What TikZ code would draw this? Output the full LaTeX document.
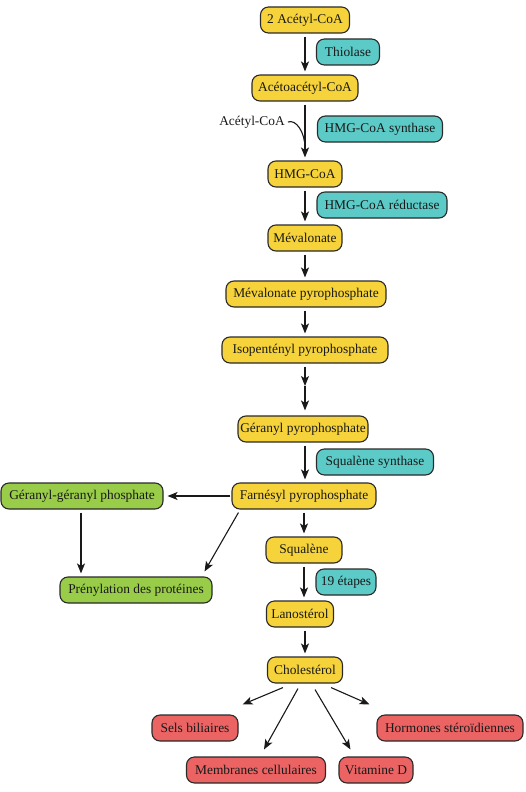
\documentclass[tikz,border=0pt]{standalone}
\usepackage{fontspec}
\setmainfont{Liberation Serif}
\usetikzlibrary{arrows.meta,calc}
\definecolor{cyel}{HTML}{F6D33A}
\definecolor{cteal}{HTML}{5CCBC7}
\definecolor{cgreen}{HTML}{99CC48}
\definecolor{cred}{HTML}{EC6364}
\definecolor{cline}{HTML}{2A2A2A}
\begin{document}
\begin{tikzpicture}[x=1pt,y=-1pt,
  box/.style={draw=cline,line width=1.1pt,rounded corners=8pt,minimum height=26pt,inner sep=0pt,
    font=\fontsize{13.4}{16}\selectfont,text=black!90},
  yel/.style={box,fill=cyel},
  teal/.style={box,fill=cteal},
  grn/.style={box,fill=cgreen},
  redb/.style={box,fill=cred},
  arr/.style={-{Stealth[length=10pt,width=8pt,inset=2.5pt]},line width=1.1pt,black!90},
  sh/.style={shorten <=3pt,shorten >=3pt}]
\useasboundingbox (0,0) rectangle (525,792);
\node[yel,minimum width=89pt] (a2) at (305,20) {2 Acétyl-CoA};
\node[teal,minimum width=63pt] (thio) at (348,52) {Thiolase};
\node[yel,minimum width=106pt] (acac) at (305,88) {Acétoacétyl-CoA};
\node[font=\fontsize{13.4}{16}\selectfont,text=black!90,inner sep=0pt] (acoa) at (252,122) {Acétyl-CoA};
\node[teal,minimum width=125pt] (hsyn) at (380,129) {HMG-CoA synthase};
\node[yel,minimum width=74pt] (hmg) at (305,174) {HMG-CoA};
\node[teal,minimum width=130pt] (hred) at (382,205) {HMG-CoA réductase};
\node[yel,minimum width=74pt] (meva) at (305,238) {Mévalonate};
\node[yel,minimum width=160pt] (mevpp) at (306,294) {Mévalonate pyrophosphate};
\node[yel,minimum width=166pt] (ipp) at (305,350) {Isopentényl pyrophosphate};
\node[yel,minimum width=130pt] (gpp) at (303,429) {Géranyl pyrophosphate};
\node[teal,minimum width=117pt] (sqs) at (375,462) {Squalène synthase};
\node[yel,minimum width=144pt] (fpp) at (304,496) {Farnésyl pyrophosphate};
\node[grn,minimum width=162pt] (ggp) at (82,496) {Géranyl-géranyl phosphate};
\node[yel,minimum width=76pt] (sq) at (304,550) {Squalène};
\node[grn,minimum width=152pt] (pren) at (136,590) {Prénylation des protéines};
\node[teal,minimum width=60pt] (e19) at (346,582) {19 étapes};
\node[yel,minimum width=67pt] (lano) at (300,614) {Lanostérol};
\node[yel,minimum width=75pt] (chol) at (305,670) {Cholestérol};
\node[redb,minimum width=86pt] (sels) at (195,728) {Sels biliaires};
\node[redb,minimum width=146pt] (horm) at (450,728) {Hormones stéroïdiennes};
\node[redb,minimum width=139pt] (memb) at (256,770) {Membranes cellulaires};
\node[redb,minimum width=74pt] (vitd) at (376,770) {Vitamine D};
\coordinate (j1) at (305,148);
\coordinate (m1) at (305,386);
% main axis
\draw[arr,sh] (a2.south -| 305,0) -- (acac.north -| 305,0);
\draw[arr,sh] (acac.south -| 305,0) -- (hmg.north -| 305,0);
\draw[line width=1.1pt,black!90] ($(acoa.east)+(3,0)$) .. controls +(8,-3) and (305,132) .. (j1);
\draw[arr,sh] (hmg.south -| 305,0) -- (meva.north -| 305,0);
\draw[arr,sh] (meva.south -| 305,0) -- (mevpp.north -| 305,0);
\draw[arr,sh] (mevpp.south -| 305,0) -- (ipp.north -| 305,0);
\draw[arr,shorten <=3pt] (ipp.south -| 305,0) -- (m1);
\draw[arr,shorten >=5pt] (m1) -- (gpp.north -| 305,0);
\draw[arr,sh] (gpp.south -| 305,0) -- (fpp.north -| 305,0);
\draw[arr,sh] (fpp.south -| 304,0) -- (sq.north -| 304,0);
\draw[arr,sh] (sq.south -| 304,0) -- (lano.north -| 304,0);
\draw[arr,sh] (lano.south -| 305,0) -- (chol.north -| 305,0);
% branches
\draw[arr,shorten <=1pt,shorten >=4pt] (fpp.west) -- (ggp.east);
\draw[arr,sh] (ggp.south -| 81,0) -- (pren.north -| 81,0);
\draw[arr] ($(fpp.south west)+(7,3)$) -- ($(pren.north east)+(-8,-5)$);
% cholesterol products
\draw[arr] ($(chol.south)+(-22,4)$) -- ($(sels.north east)+(4,-10)$);
\draw[arr] ($(chol.south)+(-7,5)$) -- ($(memb.north)+(8,-7)$);
\draw[arr] ($(chol.south)+(10,6)$) -- ($(vitd.north west)+(12,-7)$);
\draw[arr] ($(chol.south)+(26,4)$) -- ($(horm.north west)+(-7,-10)$);
\end{tikzpicture}
\end{document}
